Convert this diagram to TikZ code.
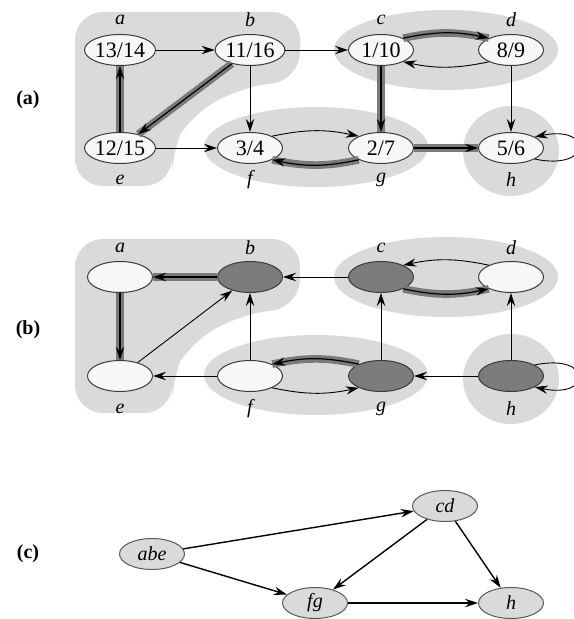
\documentclass[tikz,border=0pt]{standalone}
\usepackage{fontspec}
\setmainfont{Liberation Serif}
\usetikzlibrary{shapes.geometric, arrows.meta, positioning}
\definecolor{regiongray}{HTML}{DADADA}
\definecolor{nodewhite}{HTML}{F7F7F7}
\definecolor{nodedark}{HTML}{7C7C7C}
\definecolor{treegray}{HTML}{7A7A7A}
\definecolor{rimgray}{HTML}{3A3A3A}
\tikzstyle{vertex}     = [ellipse, draw=rimgray, line width=0.5pt, fill=nodewhite, minimum width=32.5pt, minimum height=15.5pt, inner sep=0pt]
\tikzstyle{vertexdark} = [vertex, fill=nodedark]
\tikzstyle{vertexcomp} = [vertex, fill=regiongray, draw=gray!70!black, font=\itshape]
\tikzstyle{vname}      = [font=\itshape]
\tikzstyle{panel}      = [font=\bfseries]
\tikzstyle{region}     = [fill=regiongray]
\tikzstyle{thinedge}   = [line width=0.45pt, -{Stealth[length=6.5pt,width=4.2pt,inset=2.2pt]}]
\tikzstyle{treeedge}   = [thinedge, line width=0.6pt, preaction={draw=treegray, line width=3.8pt, -}]
\tikzstyle{compedge}   = [line width=0.7pt, -{Stealth[length=6.5pt,width=4.2pt,inset=2.2pt]}]

\begin{document}
\begin{tikzpicture}[x=0.5pt, y=0.5pt, font=\fontsize{11}{13}\selectfont]
    \useasboundingbox (0,0) rectangle (573,-619);

    % (a) strongly connected components
    \fill[region, rounded corners=14] (75,-12) -- (300,-12) -- (300,-80) -- (238,-88) -- (188,-118) -- (172,-148) -- (172,-186) -- (75,-186) -- cycle;
    \fill[region] (446,-50) ellipse [x radius=112, y radius=40];
    \fill[region] (316,-147) ellipse [x radius=112, y radius=40];
    \fill[region] (511,-151) ellipse [x radius=48, y radius=45];

    \node[panel] (la) at (28,-100) {(a)};

    \node[vertex] (a1) at (120,-50)  {13/14};
    \node[vertex] (b1) at (250,-50)  {11/16};
    \node[vertex] (c1) at (381,-50)  {1/10};
    \node[vertex] (d1) at (511,-50)  {8/9};
    \node[vertex] (e1) at (120,-148) {12/15};
    \node[vertex] (f1) at (250,-148) {3/4};
    \node[vertex] (g1) at (381,-148) {2/7};
    \node[vertex] (h1) at (511,-148) {5/6};

    \node[vname] (na1) at (120,-20)  {a};
    \node[vname] (nb1) at (250,-20)  {b};
    \node[vname] (nc1) at (381,-20)  {c};
    \node[vname] (nd1) at (511,-20)  {d};
    \node[vname] (ne1) at (120,-180) {e};
    \node[vname] (nf1) at (250,-180) {f};
    \node[vname] (ng1) at (381,-180) {g};
    \node[vname] (nh1) at (511,-180) {h};

    \draw[thinedge] (a1) -- (b1);
    \draw[thinedge] (b1) -- (c1);
    \draw[thinedge] (b1) -- (f1);
    \draw[thinedge] (e1) -- (f1);
    \draw[thinedge] (d1) -- (h1);
    \draw[treeedge] (e1) -- (a1);
    \draw[treeedge] (b1) -- (e1);
    \draw[treeedge] (c1) -- (g1);
    \draw[treeedge] (g1) -- (h1);
    \draw[thinedge] (f1.28) to[bend left=12] (g1.152);
    \draw[treeedge] (g1.208) to[bend left=12] (f1.332);
    \draw[treeedge] (c1.28) to[bend left=12] (d1.152);
    \draw[thinedge] (d1.208) to[bend left=12] (c1.332);
    \draw[thinedge] (h1.-25) .. controls +(58,-12) and +(58,12) .. (h1.25);

    % (b) transpose graph
    \fill[region, rounded corners=14] (75,-239) -- (300,-239) -- (300,-307) -- (238,-315) -- (188,-345) -- (172,-375) -- (172,-413) -- (75,-413) -- cycle;
    \fill[region] (446,-277) ellipse [x radius=112, y radius=40];
    \fill[region] (316,-375) ellipse [x radius=112, y radius=40];
    \fill[region] (511,-379) ellipse [x radius=48, y radius=45];

    \node[panel] (lb) at (28,-330) {(b)};

    \node[vertex]     (a2) at (120,-277) {};
    \node[vertexdark] (b2) at (250,-277) {};
    \node[vertexdark] (c2) at (381,-277) {};
    \node[vertex]     (d2) at (511,-277) {};
    \node[vertex]     (e2) at (120,-376) {};
    \node[vertex]     (f2) at (250,-376) {};
    \node[vertexdark] (g2) at (381,-376) {};
    \node[vertexdark] (h2) at (511,-376) {};

    \node[vname] (na2) at (120,-248) {a};
    \node[vname] (nb2) at (250,-248) {b};
    \node[vname] (nc2) at (381,-248) {c};
    \node[vname] (nd2) at (511,-248) {d};
    \node[vname] (ne2) at (120,-409) {e};
    \node[vname] (nf2) at (250,-409) {f};
    \node[vname] (ng2) at (381,-409) {g};
    \node[vname] (nh2) at (511,-409) {h};

    \draw[treeedge] (b2) -- (a2);
    \draw[treeedge] (a2) -- (e2);
    \draw[thinedge] (e2) -- (b2);
    \draw[thinedge] (f2) -- (b2);
    \draw[thinedge] (c2) -- (b2);
    \draw[thinedge] (f2) -- (e2);
    \draw[thinedge] (g2) -- (c2);
    \draw[thinedge] (h2) -- (d2);
    \draw[thinedge] (h2) -- (g2);
    \draw[treeedge] (g2.152) to[bend right=12] (f2.28);
    \draw[thinedge] (f2.332) to[bend right=12] (g2.208);
    \draw[thinedge] (d2.152) to[bend right=12] (c2.28);
    \draw[treeedge] (c2.332) to[bend right=12] (d2.208);
    \draw[thinedge] (h2.25) .. controls +(58,12) and +(58,-12) .. (h2.-25);

    % (c) component graph
    \node[panel] (lc) at (28,-554) {(c)};

    \node[vertexcomp] (abe) at (152,-554) {abe};
    \node[vertexcomp] (cd)  at (445,-506) {cd};
    \node[vertexcomp] (fg)  at (315,-603) {fg};
    \node[vertexcomp] (h3)  at (511,-603) {h};

    \draw[compedge] (abe) -- (cd);
    \draw[compedge] (abe) -- (fg);
    \draw[compedge] (cd) -- (fg);
    \draw[compedge] (cd) -- (h3);
    \draw[compedge] (fg) -- (h3);
\end{tikzpicture}
\end{document}
